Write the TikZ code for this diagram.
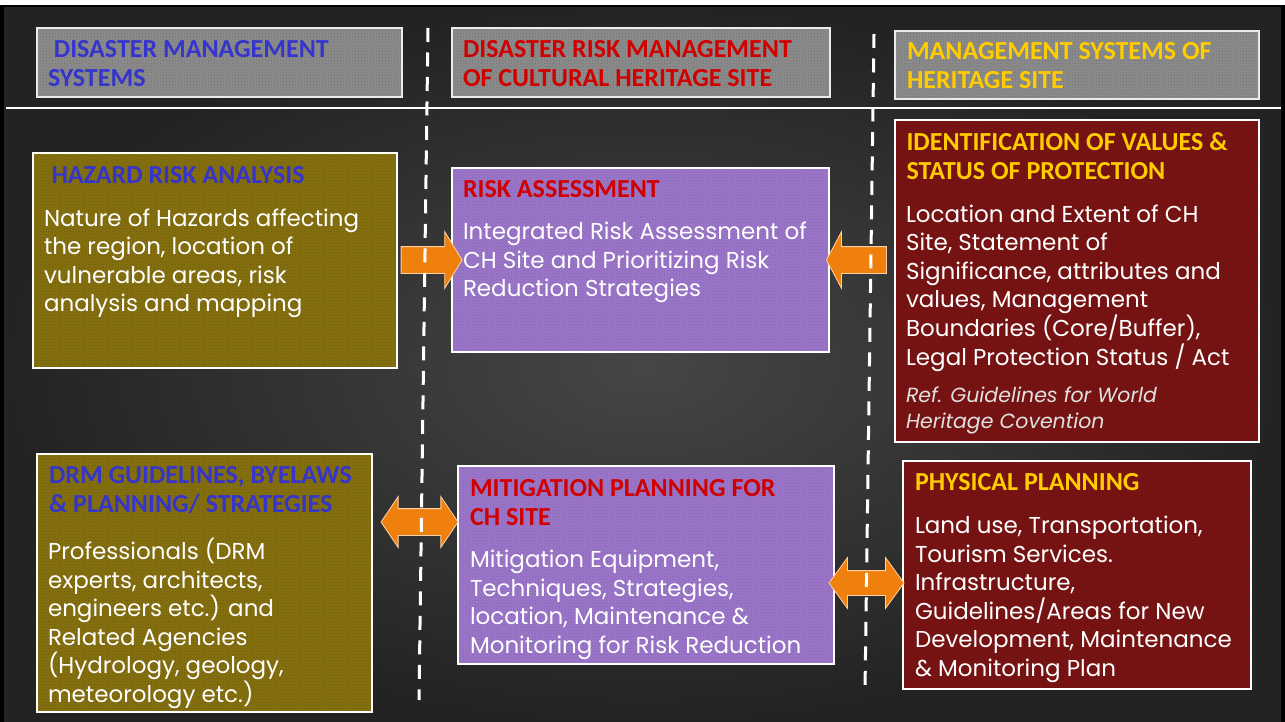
\documentclass[tikz,border=0pt]{standalone}
\usepackage{fontspec}
\setmainfont{Poppins}
\newfontfamily\headfont{Carlito}
\usetikzlibrary{shapes.arrows,patterns}

\definecolor{bgmid}{HTML}{464646}
\definecolor{bgedge}{HTML}{232323}
\definecolor{hdrgrey}{HTML}{8C8C8C}
\definecolor{olivefill}{HTML}{86700F}
\definecolor{lilacfill}{HTML}{9B76CA}
\definecolor{maroonfill}{HTML}{7A1414}
\definecolor{titleblue}{HTML}{3535CC}
\definecolor{titlered}{HTML}{D00000}
\definecolor{titlegold}{HTML}{FFCC00}
\definecolor{arroworange}{HTML}{F0800E}

\begin{document}
\begin{tikzpicture}[x=1pt, y=-1pt,
  hdrbox/.style={rectangle, fill=hdrgrey, inner sep=0pt,
    postaction={pattern=crosshatch dots, pattern color=hdrgrey!80!black},
    postaction={draw=white!92!black, line width=1.2pt}},
  olivebox/.style={rectangle, fill=olivefill, inner sep=0pt,
    postaction={pattern=crosshatch dots, pattern color=olivefill!80!black},
    postaction={draw=white, line width=1.2pt}},
  lilacbox/.style={rectangle, fill=lilacfill, inner sep=0pt,
    postaction={pattern=crosshatch dots, pattern color=lilacfill!85!black},
    postaction={draw=white, line width=1.2pt}},
  maroonbox/.style={rectangle, fill=maroonfill, inner sep=0pt,
    postaction={pattern=crosshatch dots, pattern color=maroonfill!80!black},
    postaction={draw=white, line width=1.2pt}},
  ttl/.style={anchor=north west, inner sep=0pt, align=left,
    font=\headfont\bfseries\fontsize{26}{29}\selectfont},
  bodytxt/.style={anchor=north west, inner sep=0pt, align=left, text=white,
    font=\fontsize{23}{28.6}\selectfont},
  reftxt/.style={anchor=north west, inner sep=0pt, align=left,
    text=white!88!black, font=\itshape\fontsize{20.5}{26}\selectfont},
  blockarr/.style={fill=arroworange, draw=orange!35!white, line width=0.8pt,
    inner sep=0pt, inner ysep=13pt},
  divider/.style={draw=white, line width=3pt, dash pattern=on 14pt off 10.5pt},
]
\useasboundingbox (0,0) rectangle (1285,722);

% Slide background
\fill[white] (0,0) rectangle (1285,722);
\fill[black] (0,5) rectangle (1285,722);
\shade[inner color=bgmid, outer color=bgedge] (4,8) rectangle (1281,722);
\draw[white, line width=2.5pt] (6,108) -- (1281,108);

% Header row
\node[hdrbox, minimum width=365pt, minimum height=69pt] (hdrdm) at (219.5,62.5) {};
\node[ttl, text=titleblue] (hdrdmtxt) at ([shift={(11,12)}]hdrdm.north west)
  {~DISASTER MANAGEMENT\\SYSTEMS};
\node[hdrbox, minimum width=378pt, minimum height=69pt] (hdrdrm) at (641,62.5) {};
\node[ttl, text=titlered] (hdrdrmtxt) at ([shift={(11,12)}]hdrdrm.north west)
  {DISASTER RISK MANAGEMENT\\OF CULTURAL HERITAGE SITE};
\node[hdrbox, minimum width=364pt, minimum height=68pt] (hdrms) at (1077,65) {};
\node[ttl, text=titlegold] (hdrmstxt) at ([shift={(12,11)}]hdrms.north west)
  {MANAGEMENT SYSTEMS OF\\HERITAGE SITE};

% Upper row
\node[olivebox, minimum width=364pt, minimum height=215pt] (hazard) at (215,260.5) {};
\node[ttl, text=titleblue] (hazardttl) at ([shift={(18.5,13.5)}]hazard.north west)
  {HAZARD RISK ANALYSIS};
\node[bodytxt] (hazardtxt) at ([shift={(11,55.5)}]hazard.north west)
  {Nature of Hazards affecting\\the region, location of\\vulnerable areas, risk\\analysis and mapping};

\node[lilacbox, minimum width=377pt, minimum height=184pt] (riskass) at (640.5,260) {};
\node[ttl, text=titlered] (riskassttl) at ([shift={(11,12.5)}]riskass.north west)
  {RISK ASSESSMENT};
\node[bodytxt] (riskasstxt) at ([shift={(11,54)}]riskass.north west)
  {Integrated Risk Assessment of\\CH Site and Prioritizing Risk\\Reduction Strategies};

\node[maroonbox, minimum width=364pt, minimum height=322pt] (identif) at (1077,281) {};
\node[ttl, text=titlegold] (identifttl) at ([shift={(11.5,12.5)}]identif.north west)
  {IDENTIFICATION OF VALUES \&\\STATUS OF PROTECTION};
\node[bodytxt] (identiftxt) at ([shift={(11,84.5)}]identif.north west)
  {Location and Extent of CH\\Site, Statement of\\Significance, attributes and\\values, Management\\Boundaries (Core/Buffer),\\Legal Protection Status / Act};
\node[reftxt] (identifref) at ([shift={(11,267)}]identif.north west)
  {Ref. Guidelines for World\\Heritage Covention};

% Lower row
\node[olivebox, minimum width=335pt, minimum height=258pt] (drmguide) at (204.5,583) {};
\node[ttl, text=titleblue] (drmguidettl) at ([shift={(12,12.5)}]drmguide.north west)
  {DRM GUIDELINES, BYELAWS\\\& PLANNING/ STRATEGIES};
\node[bodytxt] (drmguidetxt) at ([shift={(11,84)}]drmguide.north west)
  {Professionals (DRM\\experts, architects,\\engineers etc.) and\\Related Agencies\\(Hydrology, geology,\\meteorology etc.)};

\node[lilacbox, minimum width=376pt, minimum height=198pt] (mitig) at (646,565) {};
\node[ttl, text=titlered] (mitigttl) at ([shift={(12,13)}]mitig.north west)
  {MITIGATION PLANNING FOR\\CH SITE};
\node[bodytxt] (mitigtxt) at ([shift={(12,84)}]mitig.north west)
  {Mitigation Equipment,\\Techniques, Strategies,\\location, Maintenance \&\\Monitoring for Risk Reduction};

\node[maroonbox, minimum width=348pt, minimum height=228pt] (physplan) at (1077,575) {};
\node[ttl, text=titlegold] (physplanttl) at ([shift={(12,12.5)}]physplan.north west)
  {PHYSICAL PLANNING};
\node[bodytxt] (physplantxt) at ([shift={(12,55)}]physplan.north west)
  {Land use, Transportation,\\Tourism Services.\\Infrastructure,\\Guidelines/Areas for New\\Development, Maintenance\\\& Monitoring Plan};

% Block arrows between columns
\node[blockarr, single arrow, minimum height=61pt, single arrow head extend=15pt,
  single arrow tip angle=117] (hazardarr) at (427.5,260) {};
\node[blockarr, single arrow, shape border rotate=180, minimum height=60pt,
  single arrow head extend=15pt, single arrow tip angle=124] (identifarr) at (860,260) {};
\node[blockarr, double arrow, minimum height=77pt, double arrow head extend=12pt,
  double arrow tip angle=112] (drmguidearr) at (419.5,522) {};
\node[blockarr, double arrow, inner ysep=12pt, minimum height=75pt,
  double arrow head extend=13pt, double arrow tip angle=108] (physplanarr) at (866.5,583) {};

% Column dividers
\draw[divider] (428,28) -- (419,700);
\draw[divider] (874,34) -- (865,690);
\end{tikzpicture}
\end{document}
